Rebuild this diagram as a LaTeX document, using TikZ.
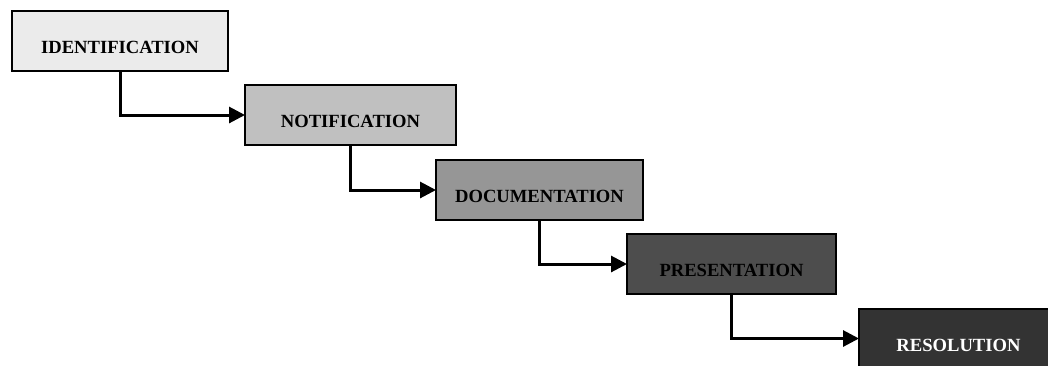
\documentclass[tikz,border=0pt]{standalone}
\usepackage{fontspec}
\setmainfont{Liberation Serif}
\usetikzlibrary{arrows.meta}
\definecolor{c1}{HTML}{EBEBEB}
\definecolor{c2}{HTML}{C0C0C0}
\definecolor{c3}{HTML}{969696}
\definecolor{c4}{HTML}{4D4D4D}
\definecolor{c5}{HTML}{333333}
\tikzset{
  stagebox/.style={draw=black, line width=1.3pt, rectangle, inner sep=0pt, outer sep=0pt,
    minimum height=60pt, text height=25pt, text depth=0pt,
    font=\fontsize{18.6}{20}\selectfont\bfseries},
  flow/.style={line width=3pt, -{Triangle[length=16pt,width=16pt]}}
}
\begin{document}
\begin{tikzpicture}[x=1pt,y=-1pt]
\useasboundingbox (0,0) rectangle (1048,365);
\clip (0,0) rectangle (1048,365);
\node[stagebox, fill=c1, minimum width=216pt] (a) at (120,41) {IDENTIFICATION};
\node[stagebox, fill=c2, minimum width=211pt] (b) at (350.5,115) {NOTIFICATION};
\node[stagebox, fill=c3, minimum width=207pt] (c) at (539.5,190) {DOCUMENTATION};
\node[stagebox, fill=c4, minimum width=209pt] (d) at (731.5,264) {PRESENTATION};
\node[stagebox, fill=c5, minimum width=199pt, minimum height=59pt, text=white] (e) at (958.5,338.5) {RESOLUTION};
\draw[flow] (a.south) |- (b.west);
\draw[flow] (b.south) |- (c.west);
\draw[flow] (c.south) |- (d.west);
\draw[flow] (d.south) |- (e.west);
\end{tikzpicture}
\end{document}
